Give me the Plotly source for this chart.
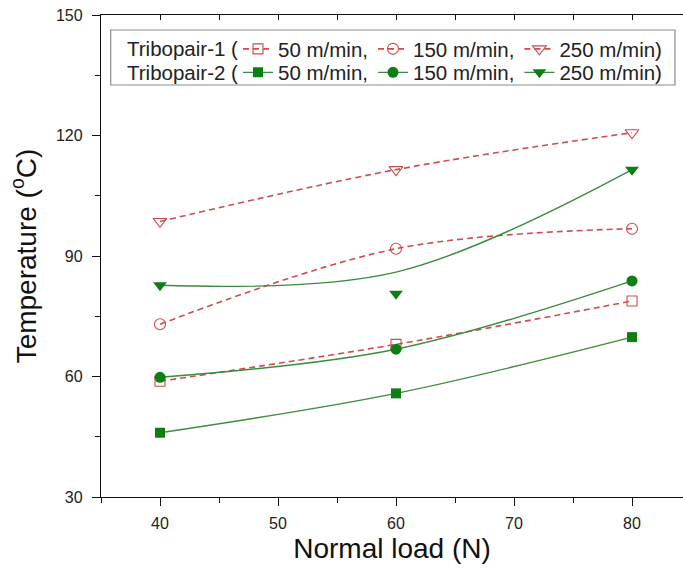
import plotly.graph_objects as go

# Normal load (N) on the x axis
loads = [40, 60, 80]

# Tribopair-1: measured temperature (°C) at each sliding speed
t1_50 = [58.8, 68.0, 78.8]
t1_150 = [73.0, 91.8, 96.8]
t1_250 = [98.6, 111.5, 120.7]

# Tribopair-2: measured temperature (°C) at each sliding speed
t2_50 = [46.0, 55.8, 69.8]
t2_150 = [59.8, 66.8, 83.8]
t2_250 = [82.7, 80.6, 111.5]
# fitted trend for Tribopair-2 at 250 m/min
t2_250_fit = [82.7, 86.0, 111.5]

speed_labels = ["50 m/min,", "150 m/min,", "250 m/min)"]
row_labels = ["Tribopair-1 (", "Tribopair-2 ("]

RED = "#cf4c4f"
GREEN = "#0b7f12"
GREEN_LINE = "#3c8c3e"
FONT = "Liberation Sans, Arial, sans-serif"
LEG_SIZE = 20.5

W, H = 683, 568
L, R, T, B = 101, 683, 15, 497


def px2x(px):
    return (px - L) / (R - L)


def py2y(py):
    return (B - py) / (B - T)


fig = go.Figure()

red_series = [(t1_50, "square-open", 10), (t1_150, "circle-open", 11), (t1_250, "triangle-down-open", 12)]
for (vals, sym, size), name in zip(red_series, speed_labels):
    fig.add_trace(go.Scatter(
        x=loads, y=vals, name=name, mode="lines+markers", legend="legend",
        line=dict(color=RED, width=1.6, dash="6px,4px", shape="spline"),
        marker=dict(symbol=sym, size=size, color=RED, line=dict(color=RED, width=1.1)),
    ))

green_series = [(t2_50, "square", 10), (t2_150, "circle", 11)]
for (vals, sym, size), name in zip(green_series, speed_labels[:2]):
    fig.add_trace(go.Scatter(
        x=loads, y=vals, name=name, mode="lines+markers", legend="legend2",
        line=dict(color=GREEN_LINE, width=1.4, shape="spline"),
        marker=dict(symbol=sym, size=size, color=GREEN, line=dict(width=0)),
    ))

# 250 m/min: fitted curve plus measured points
fig.add_trace(go.Scatter(
    x=loads, y=t2_250_fit, mode="lines", showlegend=False,
    line=dict(color=GREEN_LINE, width=1.4, shape="spline"), hoverinfo="skip",
))
fig.add_trace(go.Scatter(
    x=loads, y=t2_250, mode="markers", showlegend=False,
    marker=dict(symbol="triangle-down", size=12, color=GREEN, line=dict(width=0)),
))
fig.add_trace(go.Scatter(
    x=[None], y=[None], name=speed_labels[2], mode="lines+markers", legend="legend2",
    line=dict(color=GREEN_LINE, width=1.4),
    marker=dict(symbol="triangle-down", size=12, color=GREEN, line=dict(width=0)),
))

# carrier for the top mirror axis
fig.add_trace(go.Scatter(x=[None], y=[None], xaxis="x2", showlegend=False, hoverinfo="skip"))

axis_common = dict(
    showline=True, linecolor="#111", linewidth=1.3, showgrid=False, zeroline=False,
    ticks="outside", ticklen=8, tickwidth=1.3, tickcolor="#111",
    tickfont=dict(family=FONT, size=16, color="#222"),
)

legend_common = dict(
    orientation="h", xanchor="left", yanchor="middle",
    bgcolor="rgba(0,0,0,0)", borderwidth=0, itemwidth=30,
    font=dict(family=FONT, size=LEG_SIZE, color="#222"), tracegroupgap=0,
)

fig.update_layout(
    width=W, height=H,
    margin=dict(l=L, r=W - R, t=T, b=H - B),
    paper_bgcolor="white", plot_bgcolor="white",
    font=dict(family=FONT, color="#111"),
    xaxis=dict(
        range=[35, 35 + (R - L) / 11.8], tickvals=[40, 50, 60, 70, 80],
        minor=dict(dtick=5, tick0=35, ticks="outside", ticklen=5, tickwidth=1.3, tickcolor="#111"),
        title=dict(text="Normal load (N)", font=dict(family=FONT, size=28, color="#111"), standoff=7),
        ticklabelstandoff=4,
        **axis_common,
    ),
    yaxis=dict(
        range=[30, 150], tickvals=[30, 60, 90, 120, 150],
        minor=dict(dtick=15, tick0=30, ticks="outside", ticklen=5, tickwidth=1.3, tickcolor="#111"),
        title=dict(text="Temperature (<sup>o</sup>C)", font=dict(family=FONT, size=28, color="#111"), standoff=11),
        ticklabelstandoff=6,
        **axis_common,
    ),
    xaxis2=dict(
        overlaying="x", side="top", anchor="y", matches="x", showticklabels=False,
        showline=True, linecolor="#111", linewidth=1.3, showgrid=False, zeroline=False,
        ticks="inside", ticklen=5, tickwidth=1.3, tickcolor="#111", tickvals=[40, 50, 60, 70, 80],
        minor=dict(dtick=5, tick0=35, ticks="inside", ticklen=5, tickwidth=1.3, tickcolor="#111"),
    ),
    legend=dict(x=px2x(238), y=py2y(49), **legend_common),
    legend2=dict(x=px2x(238), y=py2y(72.5), **legend_common),
    showlegend=True,
)

# legend frame
fig.add_shape(type="rect", xref="paper", yref="paper",
              x0=px2x(110.7), x1=px2x(675), y0=py2y(85), y1=py2y(30),
              line=dict(color="#8c8c8c", width=1.2), fillcolor="rgba(0,0,0,0)", layer="above")

for label, row_y in zip(row_labels, [49, 72.5]):
    fig.add_annotation(text=label, xref="paper", yref="paper", x=px2x(125), y=py2y(row_y),
                       xanchor="left", yanchor="middle", showarrow=False,
                       font=dict(family=FONT, size=LEG_SIZE, color="#222"))

fig.write_html("out.html")
